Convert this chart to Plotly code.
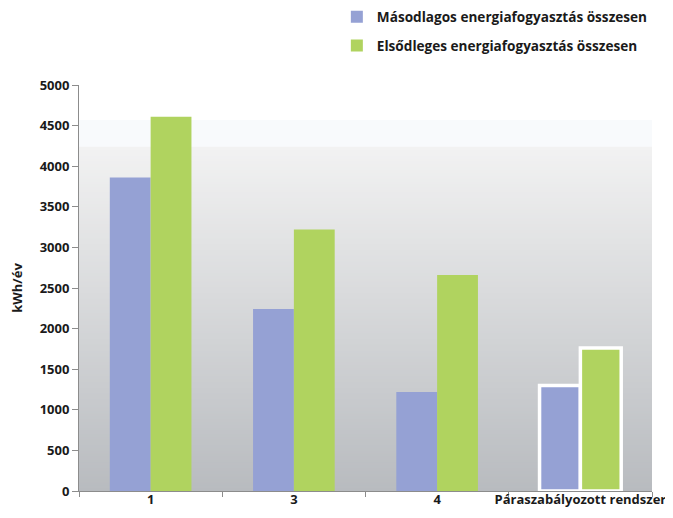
import plotly.graph_objects as go

categories = ["1", "3", "4", "Páraszabályozott rendszer"]
masodlagos = [3860, 2240, 1220, 1300]
elsodleges = [4610, 3220, 2660, 1760]
series_names = ["Másodlagos energiafogyasztás összesen",
                "Elsődleges energiafogyasztás összesen"]
y_ticks = [0, 500, 1000, 1500, 2000, 2500, 3000, 3500, 4000, 4500, 5000]

BLUE = "#95a1d4"
GREEN = "#b0d35f"
FONT = "Open Sans"
AXIS = "#8c8c8c"

border_w = [0, 0, 0, 3.5]

fig = go.Figure()
fig.add_trace(go.Bar(
    x=categories, y=masodlagos, name=series_names[0],
    marker=dict(color=BLUE, line=dict(color="white", width=border_w)),
    legendgroup="a",
))
fig.add_trace(go.Bar(
    x=categories, y=elsodleges, name=series_names[1],
    marker=dict(color=GREEN, line=dict(color="white", width=border_w)),
    legendgroup="b",
))

# background gradient (style only): nested rects from the bottom, tallest first
shapes = []
shapes.append(dict(type="rect", xref="paper", yref="y", x0=0, x1=1, y0=0, y1=4570,
                   fillcolor="#f8fafc", line=dict(width=0), layer="below"))
top_c = (242, 242, 242)
bot_c = (184, 187, 191)
n = 120
for i in range(n, 0, -1):
    top = 4240 * i / n
    t = 1 - (i - 0.5) / n
    c = tuple(round(top_c[k] + (bot_c[k] - top_c[k]) * t) for k in range(3))
    shapes.append(dict(type="rect", xref="paper", yref="y", x0=0, x1=1, y0=0, y1=top,
                       fillcolor="rgb(%d,%d,%d)" % c, line=dict(width=0), layer="below"))

fig.update_layout(
    width=657, height=502,
    margin=dict(l=71, r=13, t=77, b=19, autoexpand=False),
    paper_bgcolor="white",
    plot_bgcolor="white",
    barmode="group",
    bargap=0.43,
    bargroupgap=0,
    shapes=shapes,
    font=dict(family=FONT, size=13, color="#1a1a1a"),
    showlegend=True,
    legend=dict(
        x=0.45, xanchor="left", y=1.2057, yanchor="top",
        font=dict(family=FONT, size=13.6, color="#1a1a1a", weight="bold"),
        bgcolor="rgba(0,0,0,0)",
        traceorder="grouped",
        tracegroupgap=8,
    ),
    xaxis=dict(
        type="category",
        showgrid=False,
        showline=True, linecolor=AXIS, linewidth=1,
        ticks="outside", tickson="boundaries", ticklen=5, tickcolor=AXIS,
        tickangle=0,
        ticklabelstandoff=-4,
        tickfont=dict(family=FONT, size=13, color="#1a1a1a", weight="bold"),
        zeroline=False,
        automargin=False,
    ),
    yaxis=dict(
        range=[0, 5000],
        tickvals=y_ticks,
        showgrid=False,
        showline=True, linecolor=AXIS, linewidth=1,
        ticks="outside", ticklen=6, tickcolor=AXIS,
        tickfont=dict(family=FONT, size=13, color="#1a1a1a", weight="bold"),
        title=dict(text="kWh/év", font=dict(family=FONT, size=13, color="#1a1a1a", weight="bold"),
                   standoff=14),
        zeroline=False,
        automargin=False,
    ),
)

fig.write_html("out.html")
